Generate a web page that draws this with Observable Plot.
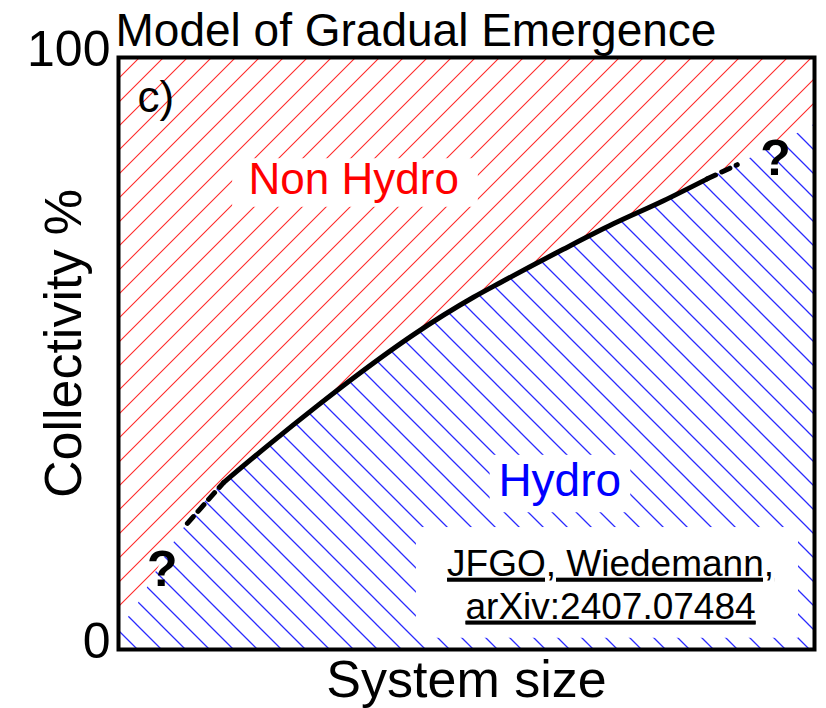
<!DOCTYPE html>
<html><head><meta charset="utf-8">
<script src="https://cdn.jsdelivr.net/npm/d3@7"></script>
<script src="https://cdn.jsdelivr.net/npm/@observablehq/plot@0.6"></script>
<style>body{margin:0;background:#fff} svg{display:block}</style>
</head><body><div id="chart"></div>
<script>
// Boundary between the two regimes (system size 0..100, collectivity %)
const systemSize   = [0, 2.2, 6.8, 9.9, 15.1, 21.4, 28.6, 34.8, 42.4, 51.0, 54.9, 63.9, 71.1, 78.3, 84.6, 88.9, 100];
const collectivity = [3.5, 6.6, 15.9, 21.3, 28.2, 34.4, 41.2, 46.8, 53.2, 59.5, 62.0, 67.6, 71.9, 75.8, 79.5, 81.9, 88.7];
const solidFrom = 4, solidTo = 14;   // indices of the solid part of the curve
const yTicks = [0, 100];
const title = "Model of Gradual Emergence";
const xLabel = "System size";
const yLabel = "Collectivity %";
const panelTag = "c)";
const upperLabel = "Non Hydro";
const lowerLabel = "Hydro";
const unknownMark = "?";
const refLines = ["JFGO, Wiedemann,", "arXiv:2407.07484"];

const FONT = "'Liberation Sans', Arial, sans-serif";
const pts = systemSize.map((x, i) => ({x, y: collectivity[i]}));
const solid = pts.slice(solidFrom, solidTo + 1);
const dashLow = pts.slice(solidFrom - 1, solidFrom + 1);
const dashHigh = pts.slice(solidTo, solidTo + 2);
const T = d => d;

const svg = Plot.plot({
  width: 826, height: 708,
  marginLeft: 118, marginTop: 57, marginRight: 12, marginBottom: 59,
  x: {domain: [0, 100], axis: null},
  y: {domain: [0, 100]},
  style: {fontFamily: FONT, background: "white", color: "black"},
  marks: [
    Plot.areaY(pts, {x: "x", y1: "y", y2: 100, fill: "url(#hatchRed)", curve: "monotone-x"}),
    Plot.areaY(pts, {x: "x", y1: 0, y2: "y", fill: "url(#hatchBlue)", curve: "monotone-x"}),
    Plot.rect([0], {x1: 16.4, x2: 51.7, y1: 74.7, y2: 82.9, fill: "white"}),
    Plot.rect([0], {x1: 53.4, x2: 73.6, y1: 23.1, y2: 32.8, fill: "white"}),
    Plot.rect([0], {x1: 42.8, x2: 97.7, y1: 1.9, y2: 20.6, fill: "white"}),
    Plot.line(solid, {x: "x", y: "y", stroke: "black", strokeWidth: 5, curve: "monotone-x"}),
    Plot.line(dashLow, {x: "x", y: "y", stroke: "black", strokeWidth: 5, strokeDasharray: "9,7"}),
    Plot.line(dashHigh, {x: "x", y: "y", stroke: "black", strokeWidth: 5, strokeDasharray: "9,7"}),
    Plot.text([upperLabel], {text: T, x: 33.8, y: 77.0, lineAnchor: "bottom", fill: "#ff0000", fontSize: 44}),
    Plot.text([lowerLabel], {text: T, x: 63.4, y: 26.0, lineAnchor: "bottom", fill: "#0000ff", fontSize: 46}),
    Plot.text([unknownMark], {text: T, x: 6.3, y: 10.8, lineAnchor: "bottom", fontSize: 50, fontWeight: "bold"}),
    Plot.text([unknownMark], {text: T, x: 94.4, y: 80.1, lineAnchor: "bottom", fontSize: 50, fontWeight: "bold"}),
    Plot.text([refLines.join("\n")], {text: T, x: 70.7, y: 5.2, lineAnchor: "bottom", lineHeight: 1.16, fontSize: 37}),
    Plot.text([panelTag], {text: T, frameAnchor: "top-left", textAnchor: "start", lineAnchor: "bottom", dx: 19, dy: 54, fontSize: 44}),
    Plot.text([title], {text: T, frameAnchor: "top-left", textAnchor: "start", lineAnchor: "bottom", dx: -3, dy: -12, fontSize: 46}),
    Plot.text([xLabel], {text: T, frameAnchor: "bottom", textAnchor: "middle", lineAnchor: "bottom", dy: 47, fontSize: 52}),
    Plot.text([yLabel], {text: T, frameAnchor: "left", textAnchor: "middle", rotate: -90, lineAnchor: "bottom", dx: -38, dy: -10, fontSize: 52}),
    Plot.axisY(yTicks, {tickSize: 0, tickPadding: 8, fontSize: 50, dy: -8, label: null}),
    Plot.frame({stroke: "black", strokeWidth: 4})
  ]
});

const defs = d3.select(svg).insert("defs", ":first-child");
defs.append("pattern").attr("id", "hatchRed").attr("patternUnits", "userSpaceOnUse")
  .attr("x", 5).attr("y", 0).attr("width", 24).attr("height", 24)
  .append("path").attr("d", "M-6,6L6,-6M0,24L24,0M18,30L30,18")
  .attr("stroke", "#ff2a2a").attr("stroke-width", 1.1).attr("fill", "none");
defs.append("pattern").attr("id", "hatchBlue").attr("patternUnits", "userSpaceOnUse")
  .attr("x", 16).attr("y", 0).attr("width", 24).attr("height", 24)
  .append("path").attr("d", "M-6,18L6,30M0,0L24,24M18,-6L30,6")
  .attr("stroke", "#2a2aff").attr("stroke-width", 1.3).attr("fill", "none");
d3.select(svg).selectAll("text")
  .filter(function() { return this.textContent.includes("arXiv"); })
  .style("text-decoration", "underline")
  .selectAll("tspan").style("text-decoration", "underline");

document.getElementById("chart").appendChild(svg);
</script>
</body></html>
